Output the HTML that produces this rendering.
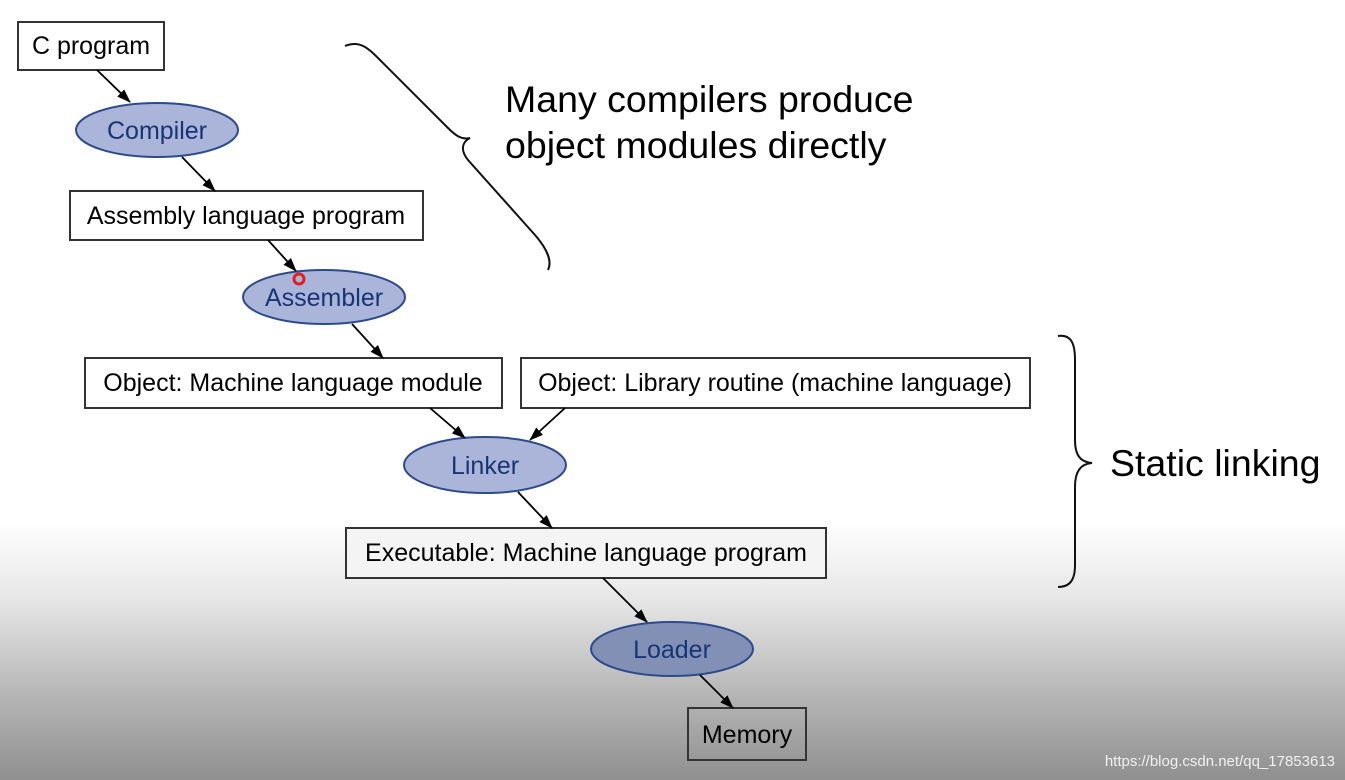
<!DOCTYPE html>
<html><head><meta charset="utf-8"><style>
html,body{margin:0;padding:0;width:1345px;height:780px;overflow:hidden}
body{background:linear-gradient(to bottom,#fff 0px,#fff 520px,#e6e6e6 600px,#b8b8b8 690px,#8f8f8f 780px)}
svg{position:absolute;left:0;top:0}
text{font-family:"Liberation Sans",sans-serif}
</style></head><body>
<svg width="1345" height="780" viewBox="0 0 1345 780">
<defs><marker id="a" markerWidth="14" markerHeight="12" refX="13" refY="6" orient="auto" markerUnits="userSpaceOnUse"><path d="M0,1 L14,6 L0,11 z" fill="#000"/></marker></defs>
<g stroke="#333" stroke-width="2" fill="#fff">
<rect x="18" y="22" width="146" height="48"/>
<rect x="70" y="191" width="353" height="49"/>
<rect x="85" y="358" width="417" height="50"/>
<rect x="521" y="358" width="509" height="50"/>
<rect x="346" y="528" width="480" height="50" fill="#f4f4f4"/>
<rect x="688" y="708" width="118" height="52" fill="none"/>
</g>
<g stroke="#2c4a8c" stroke-width="2" fill="#abb5da">
<ellipse cx="157" cy="130" rx="81" ry="27"/>
<ellipse cx="324" cy="297" rx="81" ry="27"/>
<ellipse cx="485" cy="465" rx="81" ry="28"/>
<ellipse cx="672" cy="649" rx="81" ry="27" fill="#8290b6"/>
</g>
<g stroke="#000" stroke-width="1.8" marker-end="url(#a)">
<line x1="97" y1="70" x2="130" y2="102"/>
<line x1="182" y1="157" x2="215" y2="191"/>
<line x1="268" y1="240" x2="296" y2="271"/>
<line x1="352" y1="324" x2="383" y2="358"/>
<line x1="430" y1="408" x2="465" y2="438"/>
<line x1="565" y1="408" x2="530" y2="440"/>
<line x1="518" y1="492" x2="552" y2="528"/>
<line x1="603" y1="578" x2="647" y2="622"/>
<line x1="700" y1="675" x2="733" y2="708"/>
</g>
<g fill="none" stroke="#111" stroke-width="2">
<path d="M345,46 C360,40 368,48 380,60 L448,128 C456,136 462,140 470,138 C462,142 460,150 468,160 L535,235 C548,250 552,262 548,270"/>
<path d="M1058,336 C1072,334 1075,345 1075,360 L1075,440 C1075,455 1080,462 1092,463 C1080,464 1075,472 1075,487 L1075,565 C1075,580 1070,587 1058,587"/>
</g>
<g font-size="25" fill="#000">
<text x="91" y="54" text-anchor="middle">C program</text>
<text x="246" y="224" text-anchor="middle">Assembly language program</text>
<text x="293" y="391" text-anchor="middle">Object: Machine language module</text>
<text x="775" y="391" text-anchor="middle">Object: Library routine (machine language)</text>
<text x="586" y="561" text-anchor="middle">Executable: Machine language program</text>
<text x="747" y="743" text-anchor="middle">Memory</text>
</g>
<g font-size="25" fill="#173575" text-anchor="middle">
<text x="157" y="139">Compiler</text>
<text x="324" y="306">Assembler</text>
<text x="485" y="474">Linker</text>
<text x="672" y="658">Loader</text>
</g>
<circle cx="299" cy="279" r="5" fill="none" stroke="#e02020" stroke-width="3"/>
<g font-size="37.5" fill="#000">
<text x="505" y="112">Many compilers produce</text>
<text x="505" y="158">object modules directly</text>
<text x="1110" y="476">Static linking</text>
</g>
<text x="1335" y="766" font-size="15" fill="#f0f0f0" text-anchor="end">https://blog.csdn.net/qq_17853613</text>
</svg>
</body></html>
